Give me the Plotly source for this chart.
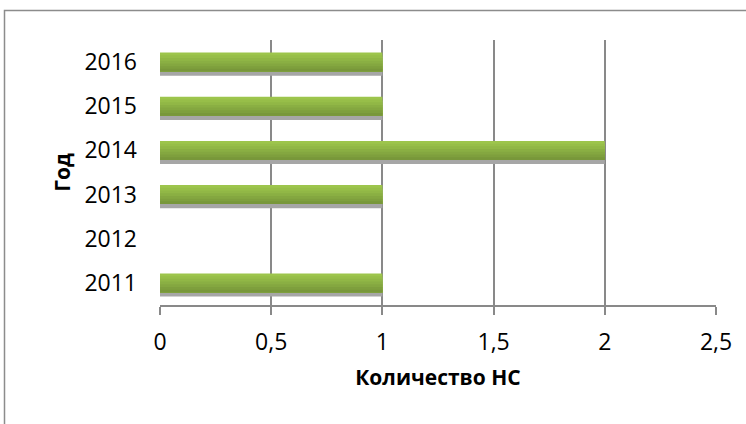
import plotly.graph_objects as go

years = ["2011", "2012", "2013", "2014", "2015", "2016"]
counts = [1, 0, 1, 2, 1, 1]
x_ticks = [0, 0.5, 1, 1.5, 2, 2.5]
x_title = "Количество НС"
y_title = "Год"

FONT = "Open Sans"
GRID = "#898989"

fig = go.Figure()
# shadow
fig.add_trace(go.Bar(y=years, x=counts, orientation="h", width=0.43, offset=-0.31,
                     marker=dict(color="#A6A6A6", line=dict(width=0)), hoverinfo="skip"))
# smooth-ish vertical gradient from light top to dark bottom
shades = ["#9DC54C", "#97BE49", "#91B746", "#8AAF43", "#84A740", "#7E9F3D", "#78973A"]
n = len(shades)
for i, c in enumerate(shades):
    w = 0.43 * (n - i) / n
    fig.add_trace(go.Bar(y=years, x=counts, orientation="h", width=w, offset=-0.215,
                         marker=dict(color=c, line=dict(width=0))))

fig.update_layout(
    width=746, height=424,
    margin=dict(l=160, r=30, t=40, b=119),
    barmode="overlay",
    showlegend=False,
    plot_bgcolor="white", paper_bgcolor="white",
    separators=", ",
    font=dict(family=FONT, size=23, color="#000000"),
    xaxis=dict(range=[0, 2.5], tickvals=x_ticks, showgrid=True, gridcolor=GRID, gridwidth=1.5,
               zeroline=False, showline=True, linecolor=GRID, linewidth=1.5,
               ticks="outside", ticklen=8, tickcolor=GRID, tickwidth=1.5,
               tickfont=dict(size=23), ticklabelstandoff=8,
               title=dict(text="<b>" + x_title + "</b>", font=dict(size=21), standoff=14)),
    yaxis=dict(type="category", categoryorder="array", categoryarray=years, range=[-0.5, 5.5],
               showgrid=False, zeroline=False, showline=False, ticks="",
               tickfont=dict(size=23), ticklabelstandoff=22,
               title=dict(text="<b>" + y_title + "</b>", font=dict(size=21), standoff=8)),
    shapes=[dict(type="rect", xref="paper", yref="paper",
                 x0=(4.5 - 160) / 556, x1=1.2, y0=-0.6, y1=(305 - 10.5) / 265,
                 line=dict(color="#8C8C8C", width=1.5), layer="below")],
)

fig.write_html("out.html")
